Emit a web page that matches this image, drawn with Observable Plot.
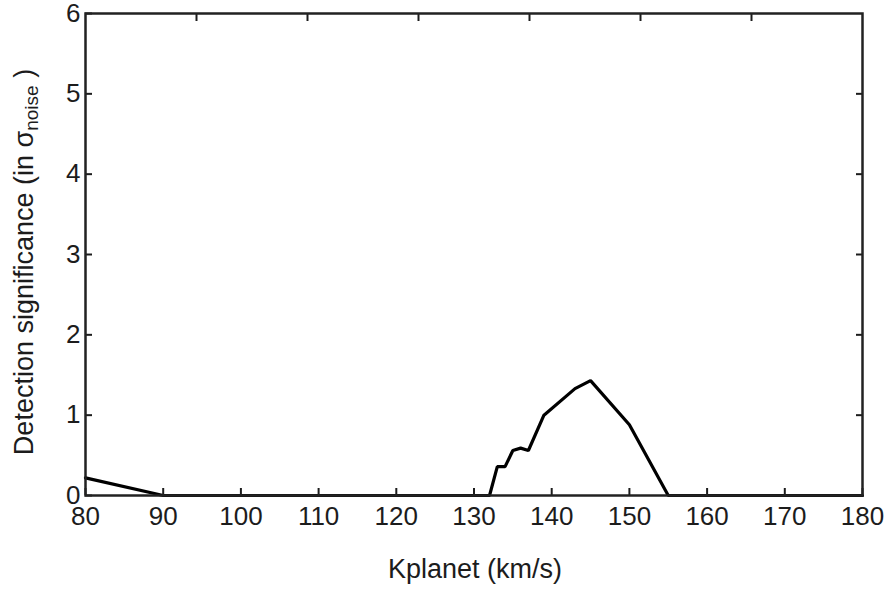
<!DOCTYPE html>
<html>
<head>
<meta charset="utf-8">
<script src="https://cdn.jsdelivr.net/npm/d3@7"></script>
<script src="https://cdn.jsdelivr.net/npm/@observablehq/plot@0.6"></script>
<style>
  html, body { margin: 0; padding: 0; background: #fff; }
  #chart svg { display: block; }
</style>
</head>
<body>
<div id="chart"></div>
<script>
// Data
const kplanet = [80, 90, 132, 133, 134, 135, 136, 137, 139, 143, 145, 150, 155, 180];
const significance = [0.22, 0, 0, 0.36, 0.36, 0.56, 0.59, 0.56, 1.0, 1.33, 1.43, 0.88, 0, 0];
const xTicks = [80, 90, 100, 110, 120, 130, 140, 150, 160, 170, 180];
const yTicks = [0, 1, 2, 3, 4, 5, 6];
const topTicks = [1, 2, 3, 4, 5, 6].map(k => 80 + (100 * k) / 7);
const rightTicks = [1, 2, 3, 4, 5];
const xTitle = "Kplanet (km/s)";
const yTitleMain = "Detection significance (in σ";
const yTitleSub = "noise";
const yTitleEnd = " )";

const data = kplanet.map((k, i) => ({k, s: significance[i]}));
const font = "'Liberation Sans', Arial, sans-serif";
const ink = "#1c1c1c";

const chart = Plot.plot({
  width: 886,
  height: 592,
  marginLeft: 85,
  marginRight: 24,
  marginTop: 13,
  marginBottom: 97,
  style: {fontFamily: font, background: "#fff", color: ink},
  x: {domain: [80, 180]},
  y: {domain: [0, 6]},
  marks: [
    Plot.line(data, {x: "k", y: "s", stroke: "#000", strokeWidth: 3.2, strokeLinejoin: "miter"}),
    // bottom labels
    Plot.axisX({ticks: xTicks, tickSize: 0, tickPadding: 11, fontSize: 26, label: null, tickFormat: d => String(d)}),
    // bottom inward ticks
    Plot.axisX({ticks: xTicks, tickSize: -7, tickFormat: () => "", label: null, strokeWidth: 2}),
    // top inward ticks
    Plot.axisX({anchor: "top", ticks: topTicks, tickSize: -7, tickFormat: () => "", label: null, strokeWidth: 2}),
    // left labels
    Plot.axisY({ticks: yTicks, tickSize: 0, tickPadding: 5, fontSize: 26, label: null, tickFormat: d => String(d)}),
    // left inward ticks
    Plot.axisY({ticks: yTicks, tickSize: -7, tickFormat: () => "", label: null, strokeWidth: 2}),
    // right inward ticks
    Plot.axisY({anchor: "right", ticks: rightTicks, tickSize: -7, tickFormat: () => "", label: null, strokeWidth: 2}),
    Plot.frame({stroke: "#222", strokeWidth: 2.5})
  ]
});

const svg = d3.select(chart);
svg.append("text")
  .attr("x", 475).attr("y", 578)
  .attr("text-anchor", "middle")
  .attr("font-family", font).attr("font-size", 27).attr("fill", ink)
  .text(xTitle);

const yt = svg.append("text")
  .attr("transform", "translate(33,262) rotate(-90)")
  .attr("text-anchor", "middle")
  .attr("font-family", font).attr("font-size", 27).attr("fill", ink);
yt.append("tspan").text(yTitleMain);
yt.append("tspan").attr("font-size", 19).attr("dy", 5).text(yTitleSub);
yt.append("tspan").attr("dy", -5).text(yTitleEnd);

document.getElementById("chart").appendChild(chart);
</script>
</body>
</html>
